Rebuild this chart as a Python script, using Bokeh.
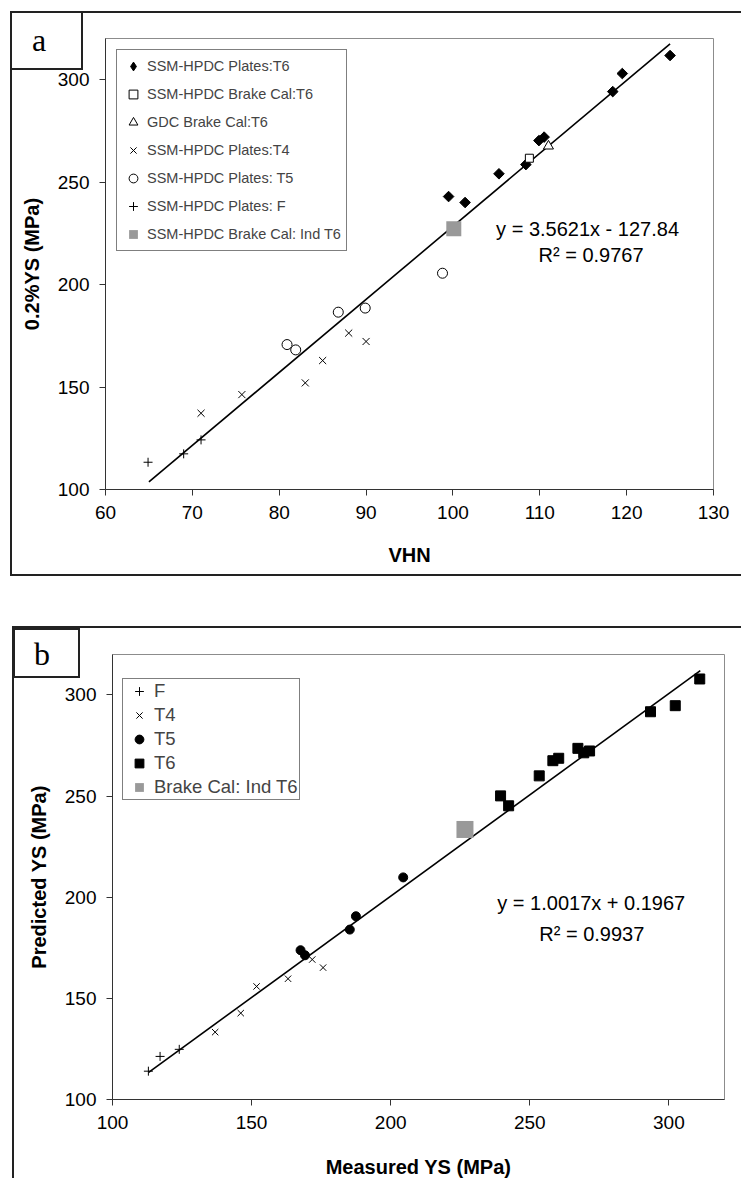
from bokeh.plotting import figure
from bokeh.models import Range1d, FixedTicker, Legend, LegendItem, Label, Div, GridBox, Column
from bokeh.embed import file_html
from bokeh.resources import INLINE
import math

# ---------------- Panel a data (VHN vs 0.2%YS) ----------------
a_t6_x = [99.5, 101.4, 105.3, 108.4, 109.9, 110.5, 118.4, 119.5, 125.0]
a_t6_y = [242.9, 240.0, 254.0, 258.5, 270.2, 271.9, 294.1, 302.9, 311.7]
a_brake_x = [108.8]
a_brake_y = [261.6]
a_gdc_x = [111.0]
a_gdc_y = [267.5]
a_t4_x = [71.0, 75.7, 83.0, 85.0, 88.0, 90.0]
a_t4_y = [137.2, 146.3, 152.0, 162.9, 176.3, 172.2]
a_t5_x = [80.9, 81.9, 86.8, 89.9, 98.8]
a_t5_y = [170.7, 168.1, 186.5, 188.5, 205.5]
a_f_x = [64.9, 69.0, 71.0]
a_f_y = [113.3, 117.4, 124.2]
a_ind_x = [100.1]
a_ind_y = [227.2]
a_fit_x = [65.0, 125.0]
a_fit_y = [103.7, 317.4]
a_xticks = [60, 70, 80, 90, 100, 110, 120, 130]
a_yticks = [100, 150, 200, 250, 300]

# ---------------- Panel b data (Measured vs Predicted YS) ----------------
b_f_x = [112.9, 117.1, 124.0]
b_f_y = [114.0, 121.3, 124.8]
b_t4_x = [136.9, 146.1, 151.8, 163.1, 171.8, 175.7]
b_t4_y = [133.3, 142.7, 155.9, 159.7, 169.2, 165.2]
b_t5_x = [167.6, 169.2, 185.3, 187.5, 204.5]
b_t5_y = [173.8, 171.3, 184.0, 190.6, 209.8]
b_t6_x = [239.5, 242.4, 253.4, 258.3, 260.4, 267.3, 269.4, 271.5, 293.4, 302.3, 311.1]
b_t6_y = [250.1, 245.2, 260.0, 267.5, 268.7, 273.6, 271.4, 272.3, 291.7, 294.7, 307.9]
b_ind_x = [226.7]
b_ind_y = [233.5]
b_fit_x = [113.0, 311.3]
b_fit_y = [113.4, 312.0]
b_ticks = [100, 150, 200, 250, 300]

FONT = "Liberation Sans"


def style_axes(p, xticks, yticks, xlabel, ylabel, xstand):
    p.xaxis.ticker = FixedTicker(ticks=xticks)
    p.yaxis.ticker = FixedTicker(ticks=yticks)
    p.xaxis.axis_label = xlabel
    p.yaxis.axis_label = ylabel
    for ax in (p.xaxis[0], p.yaxis[0]):
        ax.major_label_text_font = FONT
        ax.major_label_text_font_size = "19px"
        ax.major_label_text_color = "black"
        ax.axis_label_text_font = FONT
        ax.axis_label_text_font_style = "bold"
        ax.axis_label_text_font_size = "20px"
        ax.axis_label_text_color = "black"
        ax.major_tick_in = 0
        ax.major_tick_out = 6
        ax.minor_tick_line_color = None
        ax.axis_line_color = "#333333"
        ax.major_tick_line_color = "#333333"
        ax.major_label_standoff = 10
    p.xaxis[0].axis_label_standoff = xstand
    p.yaxis[0].axis_label_standoff = 12
    p.grid.visible = False
    p.outline_line_color = "#8c8c8c"
    p.outline_line_width = 1


def box_div(w, h, mtop, mleft, bottom=True):
    line = "2px solid #222222"
    st = {"border-left": line, "border-top": line, "box-sizing": "border-box",
          "pointer-events": "none"}
    if bottom:
        st["border-bottom"] = line
    return Div(text="", width=w, height=h, margin=(mtop, 0, 0, mleft), styles=st)


def tag_div(txt, w, h, mtop, mleft, pad_l, pad_t, lh):
    st = {"border": "2px solid #222222", "background-color": "white",
          "box-sizing": "border-box", "font-family": "Liberation Serif",
          "font-size": "32px", "line-height": "%dpx" % lh, "color": "black",
          "padding-left": "%dpx" % pad_l, "padding-top": "%dpx" % pad_t}
    return Div(text=txt, width=w, height=h, margin=(mtop, 0, 0, mleft), styles=st)


# ================= Panel a =================
pa = figure(frame_width=608, frame_height=451, x_range=Range1d(60, 130), y_range=Range1d(100, 320),
            output_backend="svg", toolbar_location=None,
            min_border_left=105, min_border_right=20, min_border_top=38, min_border_bottom=101)
style_axes(pa, a_xticks, a_yticks, "VHN", "0.2%YS (MPa)", 22)

pa.line(a_fit_x, a_fit_y, line_color="black", line_width=1.6)
# tiny diamond copy of the T6 series: only provides the diamond legend swatch
ra_t6_key = pa.scatter(a_t6_x, a_t6_y, marker="diamond", size=1,
                       fill_color="black", line_color="black")
pa.scatter(a_t6_x, a_t6_y, marker="square", angle=math.pi / 4, size=7.5,
           fill_color="black", line_color="black")
ra_br = pa.scatter(a_brake_x, a_brake_y, marker="square", size=8,
                   fill_color="white", line_color="black", line_width=1)
ra_gdc = pa.scatter(a_gdc_x, a_gdc_y, marker="triangle", size=10,
                    fill_color="white", line_color="black", line_width=1)
ra_t4 = pa.scatter(a_t4_x, a_t4_y, marker="x", size=10, line_color="black", line_width=1)
ra_t5 = pa.scatter(a_t5_x, a_t5_y, marker="circle", size=10,
                   fill_color="white", line_color="black", line_width=1)
ra_f = pa.scatter(a_f_x, a_f_y, marker="cross", size=9, line_color="black", line_width=1)
ra_ind = pa.scatter(a_ind_x, a_ind_y, marker="square", size=15,
                    fill_color="#999999", line_color=None)

leg_a = Legend(items=[
    LegendItem(label="SSM-HPDC Plates:T6", renderers=[ra_t6_key]),
    LegendItem(label="SSM-HPDC Brake Cal:T6", renderers=[ra_br]),
    LegendItem(label="GDC Brake Cal:T6", renderers=[ra_gdc]),
    LegendItem(label="SSM-HPDC Plates:T4", renderers=[ra_t4]),
    LegendItem(label="SSM-HPDC Plates: T5", renderers=[ra_t5]),
    LegendItem(label="SSM-HPDC Plates: F", renderers=[ra_f]),
    LegendItem(label="SSM-HPDC Brake Cal: Ind T6", renderers=[ra_ind]),
], location="top_left", margin=11, padding=5, spacing=6,
    glyph_width=22, glyph_height=22, label_height=22, label_standoff=3,
    label_text_font=FONT, label_text_font_size="14.5px",
    border_line_color="black", border_line_width=1, background_fill_color="white",
    background_fill_alpha=1)
pa.add_layout(leg_a)

pa.add_layout(Label(x=115.5, y=227.0, text="y = 3.5621x - 127.84", text_align="center",
                    text_baseline="middle", text_font=FONT, text_font_size="20px",
                    text_color="black"))
pa.add_layout(Label(x=115.9, y=214.5, text="R\u00b2 = 0.9767", text_align="center",
                    text_baseline="middle", text_font=FONT, text_font_size="20px",
                    text_color="black"))

# ================= Panel b =================
pb = figure(frame_width=612, frame_height=445, x_range=Range1d(100, 320), y_range=Range1d(100, 320),
            output_backend="svg", toolbar_location=None,
            min_border_left=112, min_border_right=10, min_border_top=64, min_border_bottom=79)
style_axes(pb, b_ticks, b_ticks, "Measured YS (MPa)", "Predicted YS (MPa)", 24)

pb.line(b_fit_x, b_fit_y, line_color="black", line_width=1.6)
rb_f = pb.scatter(b_f_x, b_f_y, marker="cross", size=9, line_color="black", line_width=1)
rb_t4 = pb.scatter(b_t4_x, b_t4_y, marker="x", size=9, line_color="black", line_width=1)
rb_t5 = pb.scatter(b_t5_x, b_t5_y, marker="circle", size=9,
                   fill_color="black", line_color="black")
rb_t6 = pb.scatter(b_t6_x, b_t6_y, marker="square", size=10,
                   fill_color="black", line_color="black")
rb_ind = pb.scatter(b_ind_x, b_ind_y, marker="square", size=17,
                    fill_color="#999999", line_color=None)

leg_b = Legend(items=[
    LegendItem(label="F", renderers=[rb_f]),
    LegendItem(label="T4", renderers=[rb_t4]),
    LegendItem(label="T5", renderers=[rb_t5]),
    LegendItem(label="T6", renderers=[rb_t6]),
    LegendItem(label="Brake Cal: Ind T6", renderers=[rb_ind]),
], location=(10, 299), margin=0, padding=1, spacing=2,
    glyph_width=30, glyph_height=22, label_height=22, label_standoff=0,
    label_text_font=FONT, label_text_font_size="18.5px",
    border_line_color="black", border_line_width=1, background_fill_color="white",
    background_fill_alpha=1)
pb.add_layout(leg_b)

pb.add_layout(Label(x=272.1, y=197.0, text="y = 1.0017x + 0.1967", text_align="center",
                    text_baseline="middle", text_font=FONT, text_font_size="20px",
                    text_color="black"))
pb.add_layout(Label(x=272.3, y=181.7, text="R\u00b2 = 0.9937", text_align="center",
                    text_baseline="middle", text_font=FONT, text_font_size="20px",
                    text_color="black"))

# ---- outer frames and panel tags (HTML overlays in the same grid cell) ----
box_a = box_div(731, 565, 11, 10, bottom=True)
tag_a = tag_div("a", 73, 59, 11, 10, 20, 2, 50)
box_b = box_div(729, 552, 36, 12, bottom=False)
tag_b = tag_div("b", 67, 50, 38, 13, 19, 4, 40)

grid_a = GridBox(children=[(pa, 0, 0), (box_a, 0, 0), (tag_a, 0, 0)])
grid_b = GridBox(children=[(pb, 0, 0), (box_b, 0, 0), (tag_b, 0, 0)])
page = Column(children=[grid_a, grid_b])
open("out.html", "w").write(file_html(page, INLINE))
